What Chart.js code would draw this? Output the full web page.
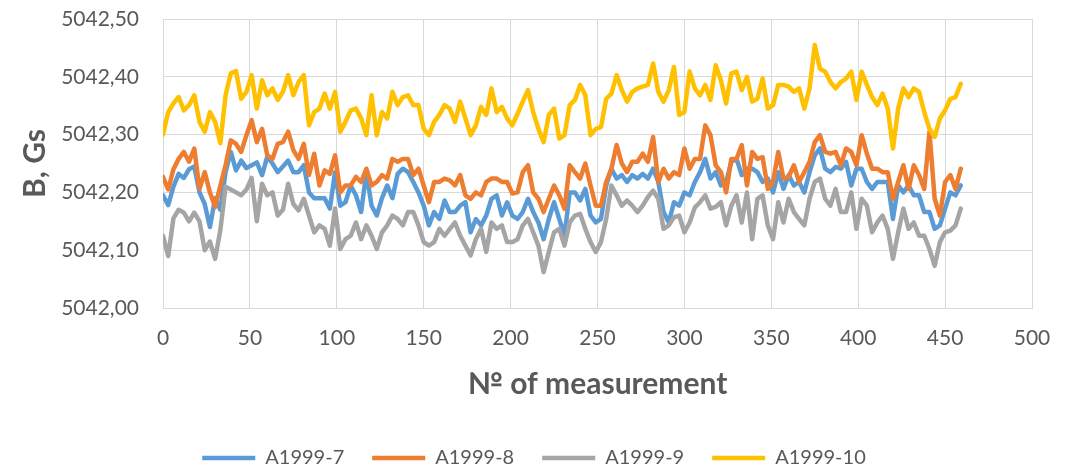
<!DOCTYPE html>
<html>
<head>
<meta charset="utf-8">
<script src="https://cdn.jsdelivr.net/npm/chart.js@4"></script>
<style>
  html, body { margin: 0; padding: 0; background: #fff; }
  #chart { display: block; }
</style>
</head>
<body>
<canvas id="chart" width="1074" height="466"></canvas>
<script>
const measurement = Array.from({ length: 154 }, (_, i) => i * 3);

const seriesNames = ['A1999-7', 'A1999-8', 'A1999-9', 'A1999-10'];
const seriesColors = ['#5B9BD5', '#ED7D31', '#A5A5A5', '#FFC000'];

const a1999_7 = [
  5042.195, 5042.178, 5042.210, 5042.232, 5042.225, 5042.240, 5042.245, 5042.200, 5042.180, 5042.140,
  5042.190, 5042.170, 5042.235, 5042.270, 5042.238, 5042.255, 5042.242, 5042.247, 5042.252, 5042.230,
  5042.262, 5042.250, 5042.235, 5042.245, 5042.255, 5042.235, 5042.235, 5042.247, 5042.200, 5042.190,
  5042.190, 5042.190, 5042.172, 5042.235, 5042.177, 5042.183, 5042.212, 5042.195, 5042.166, 5042.235,
  5042.177, 5042.160, 5042.190, 5042.212, 5042.190, 5042.232, 5042.241, 5042.235, 5042.218, 5042.200,
  5042.177, 5042.143, 5042.166, 5042.154, 5042.186, 5042.166, 5042.166, 5042.177, 5042.183, 5042.131,
  5042.154, 5042.143, 5042.160, 5042.189, 5042.195, 5042.160, 5042.183, 5042.160, 5042.154, 5042.166,
  5042.189, 5042.166, 5042.148, 5042.119, 5042.154, 5042.183, 5042.154, 5042.125, 5042.200, 5042.200,
  5042.186, 5042.206, 5042.160, 5042.148, 5042.154, 5042.212, 5042.241, 5042.224, 5042.230, 5042.218,
  5042.230, 5042.224, 5042.232, 5042.224, 5042.241, 5042.218, 5042.166, 5042.148, 5042.183, 5042.177,
  5042.200, 5042.195, 5042.218, 5042.235, 5042.258, 5042.224, 5042.235, 5042.212, 5042.218, 5042.253,
  5042.258, 5042.230, 5042.241, 5042.241, 5042.235, 5042.218, 5042.224, 5042.200, 5042.235, 5042.206,
  5042.230, 5042.212, 5042.218, 5042.200, 5042.235, 5042.264, 5042.276, 5042.241, 5042.235, 5042.244,
  5042.241, 5042.253, 5042.212, 5042.241, 5042.241, 5042.218, 5042.206, 5042.218, 5042.218, 5042.218,
  5042.154, 5042.212, 5042.200, 5042.212, 5042.195, 5042.195, 5042.166, 5042.166, 5042.137, 5042.143,
  5042.172, 5042.200, 5042.195, 5042.212
];

const a1999_8 = [
  5042.227, 5042.205, 5042.240, 5042.258, 5042.270, 5042.253, 5042.276, 5042.206, 5042.235, 5042.200,
  5042.175, 5042.212, 5042.247, 5042.290, 5042.284, 5042.270, 5042.299, 5042.325, 5042.287, 5042.310,
  5042.264, 5042.258, 5042.284, 5042.287, 5042.305, 5042.273, 5042.258, 5042.284, 5042.230, 5042.267,
  5042.212, 5042.238, 5042.232, 5042.264, 5042.200, 5042.212, 5042.212, 5042.227, 5042.218, 5042.241,
  5042.212, 5042.218, 5042.230, 5042.224, 5042.258, 5042.253, 5042.258, 5042.258, 5042.230, 5042.241,
  5042.212, 5042.183, 5042.218, 5042.218, 5042.224, 5042.221, 5042.212, 5042.230, 5042.195, 5042.189,
  5042.200, 5042.195, 5042.218, 5042.224, 5042.224, 5042.218, 5042.218, 5042.198, 5042.200, 5042.235,
  5042.247, 5042.200, 5042.189, 5042.166, 5042.189, 5042.212, 5042.195, 5042.172, 5042.247, 5042.235,
  5042.224, 5042.250, 5042.212, 5042.177, 5042.177, 5042.218, 5042.241, 5042.282, 5042.250, 5042.235,
  5042.253, 5042.253, 5042.267, 5042.253, 5042.296, 5042.218, 5042.241, 5042.224, 5042.235, 5042.230,
  5042.276, 5042.241, 5042.258, 5042.258, 5042.316, 5042.299, 5042.247, 5042.235, 5042.200, 5042.258,
  5042.258, 5042.282, 5042.212, 5042.270, 5042.258, 5042.261, 5042.206, 5042.218, 5042.270, 5042.224,
  5042.227, 5042.247, 5042.218, 5042.235, 5042.253, 5042.287, 5042.299, 5042.270, 5042.267, 5042.270,
  5042.247, 5042.276, 5042.270, 5042.247, 5042.299, 5042.267, 5042.241, 5042.241, 5042.235, 5042.235,
  5042.189, 5042.218, 5042.247, 5042.206, 5042.247, 5042.230, 5042.206, 5042.305, 5042.189, 5042.160,
  5042.218, 5042.230, 5042.206, 5042.241
];

const a1999_9 = [
  5042.125, 5042.090, 5042.155, 5042.170, 5042.165, 5042.150, 5042.165, 5042.150, 5042.100, 5042.115,
  5042.085, 5042.135, 5042.210, 5042.205, 5042.200, 5042.195, 5042.205, 5042.225, 5042.150, 5042.215,
  5042.195, 5042.200, 5042.160, 5042.170, 5042.215, 5042.180, 5042.169, 5042.189, 5042.160, 5042.131,
  5042.143, 5042.137, 5042.108, 5042.172, 5042.102, 5042.119, 5042.125, 5042.148, 5042.119, 5042.143,
  5042.125, 5042.102, 5042.131, 5042.143, 5042.160, 5042.154, 5042.143, 5042.166, 5042.166, 5042.143,
  5042.114, 5042.108, 5042.114, 5042.137, 5042.125, 5042.137, 5042.148, 5042.125, 5042.108, 5042.091,
  5042.119, 5042.137, 5042.097, 5042.148, 5042.137, 5042.143, 5042.114, 5042.114, 5042.119, 5042.143,
  5042.154, 5042.131, 5042.108, 5042.062, 5042.097, 5042.131, 5042.137, 5042.108, 5042.148, 5042.160,
  5042.163, 5042.137, 5042.114, 5042.097, 5042.114, 5042.154, 5042.212, 5042.195, 5042.177, 5042.186,
  5042.177, 5042.166, 5042.177, 5042.192, 5042.203, 5042.189, 5042.137, 5042.143, 5042.157, 5042.160,
  5042.131, 5042.148, 5042.174, 5042.183, 5042.195, 5042.172, 5042.175, 5042.183, 5042.143, 5042.177,
  5042.195, 5042.148, 5042.200, 5042.119, 5042.189, 5042.195, 5042.143, 5042.119, 5042.183, 5042.148,
  5042.189, 5042.166, 5042.154, 5042.143, 5042.189, 5042.218, 5042.224, 5042.189, 5042.177, 5042.206,
  5042.166, 5042.166, 5042.200, 5042.137, 5042.189, 5042.177, 5042.131, 5042.148, 5042.160, 5042.137,
  5042.085, 5042.131, 5042.172, 5042.137, 5042.148, 5042.125, 5042.125, 5042.102, 5042.073, 5042.114,
  5042.131, 5042.134, 5042.143, 5042.172
];

const a1999_10 = [
  5042.300, 5042.339, 5042.354, 5042.365, 5042.342, 5042.351, 5042.368, 5042.322, 5042.305, 5042.339,
  5042.322, 5042.285, 5042.368, 5042.406, 5042.410, 5042.362, 5042.374, 5042.403, 5042.345, 5042.394,
  5042.368, 5042.380, 5042.360, 5042.374, 5042.403, 5042.368, 5042.391, 5042.403, 5042.316, 5042.339,
  5042.345, 5042.371, 5042.345, 5042.374, 5042.305, 5042.322, 5042.342, 5042.345, 5042.328, 5042.299,
  5042.368, 5042.299, 5042.339, 5042.328, 5042.374, 5042.351, 5042.365, 5042.368, 5042.351, 5042.351,
  5042.310, 5042.299, 5042.322, 5042.334, 5042.351, 5042.345, 5042.322, 5042.357, 5042.328, 5042.299,
  5042.316, 5042.348, 5042.334, 5042.380, 5042.339, 5042.348, 5042.328, 5042.316, 5042.336, 5042.357,
  5042.377, 5042.339, 5042.310, 5042.287, 5042.334, 5042.345, 5042.293, 5042.299, 5042.351, 5042.360,
  5042.386, 5042.368, 5042.299, 5042.310, 5042.313, 5042.362, 5042.371, 5042.403, 5042.377, 5042.357,
  5042.374, 5042.380, 5042.383, 5042.386, 5042.423, 5042.374, 5042.357, 5042.377, 5042.417, 5042.334,
  5042.339, 5042.409, 5042.380, 5042.368, 5042.386, 5042.360, 5042.420, 5042.394, 5042.354, 5042.406,
  5042.409, 5042.377, 5042.400, 5042.357, 5042.362, 5042.397, 5042.345, 5042.351, 5042.386, 5042.386,
  5042.383, 5042.374, 5042.380, 5042.345, 5042.380, 5042.455, 5042.414, 5042.409, 5042.391, 5042.380,
  5042.391, 5042.397, 5042.409, 5042.360, 5042.409, 5042.386, 5042.365, 5042.351, 5042.371, 5042.345,
  5042.276, 5042.345, 5042.380, 5042.365, 5042.380, 5042.374, 5042.339, 5042.310, 5042.296, 5042.328,
  5042.342, 5042.362, 5042.365, 5042.388
];

const yTicks = { min: 5042.0, max: 5042.5, step: 0.1 };
const xTicks = { min: 0, max: 500, step: 50 };

const seriesValues = [a1999_7, a1999_8, a1999_9, a1999_10];
const textColor = '#595959';
const gridColor = '#D9D9D9';

Chart.defaults.font.family = 'Lato, "Open Sans", sans-serif';
Chart.defaults.color = textColor;

const chartEl = document.getElementById('chart');

new Chart(chartEl, {
  type: 'line',
  data: {
    labels: measurement,
    datasets: seriesValues.map((values, i) => ({
      label: seriesNames[i],
      data: values,
      borderColor: seriesColors[i],
      backgroundColor: seriesColors[i],
      borderWidth: 4.5,
      borderJoinStyle: 'round',
      borderCapStyle: 'round',
      pointRadius: 0,
      tension: 0,
      // later series on top, like the original
      order: seriesValues.length - i,
    })),
  },
  options: {
    responsive: false,
    animation: false,
    devicePixelRatio: 1,
    layout: {
      padding: { left: 36, right: 42, top: 19, bottom: -12 },
    },
    plugins: {
      tooltip: { enabled: false },
      legend: {
        position: 'bottom',
        labels: {
          usePointStyle: true,
          pointStyle: 'line',
          pointStyleWidth: 53,
          boxHeight: 4,
          padding: 28,
          color: textColor,
          font: { size: 20 },
          sort: (a, b) => a.datasetIndex - b.datasetIndex,
        },
      },
    },
    scales: {
      x: {
        type: 'linear',
        min: xTicks.min,
        max: xTicks.max,
        afterFit: (scale) => {
          scale.height = 112;
        },
        ticks: {
          stepSize: xTicks.step,
          padding: 18,
          color: textColor,
          font: { size: 21 },
          maxRotation: 0,
        },
        grid: { color: gridColor, lineWidth: 1, drawTicks: false },
        border: { color: gridColor, width: 1 },
        title: {
          display: true,
          text: '№ of measurement',
          color: textColor,
          font: { size: 30, weight: 'bold' },
          padding: { bottom: 18 },
        },
      },
      y: {
        min: yTicks.min,
        max: yTicks.max,
        afterFit: (scale) => {
          scale.width = 127;
        },
        ticks: {
          stepSize: yTicks.step,
          padding: 0,
          color: textColor,
          font: { size: 21 },
          callback: (value) => value.toFixed(2).replace('.', ','),
        },
        // invisible tick marks keep the labels off the axis
        grid: {
          color: gridColor,
          lineWidth: 1,
          drawTicks: true,
          tickLength: 24,
          tickColor: 'rgba(0,0,0,0)',
        },
        border: { color: gridColor, width: 1 },
        title: {
          display: true,
          text: 'B, Gs',
          color: textColor,
          font: { size: 30, weight: 'bold' },
          padding: { top: -19 },
        },
      },
    },
  },
});
</script>
</body>
</html>
